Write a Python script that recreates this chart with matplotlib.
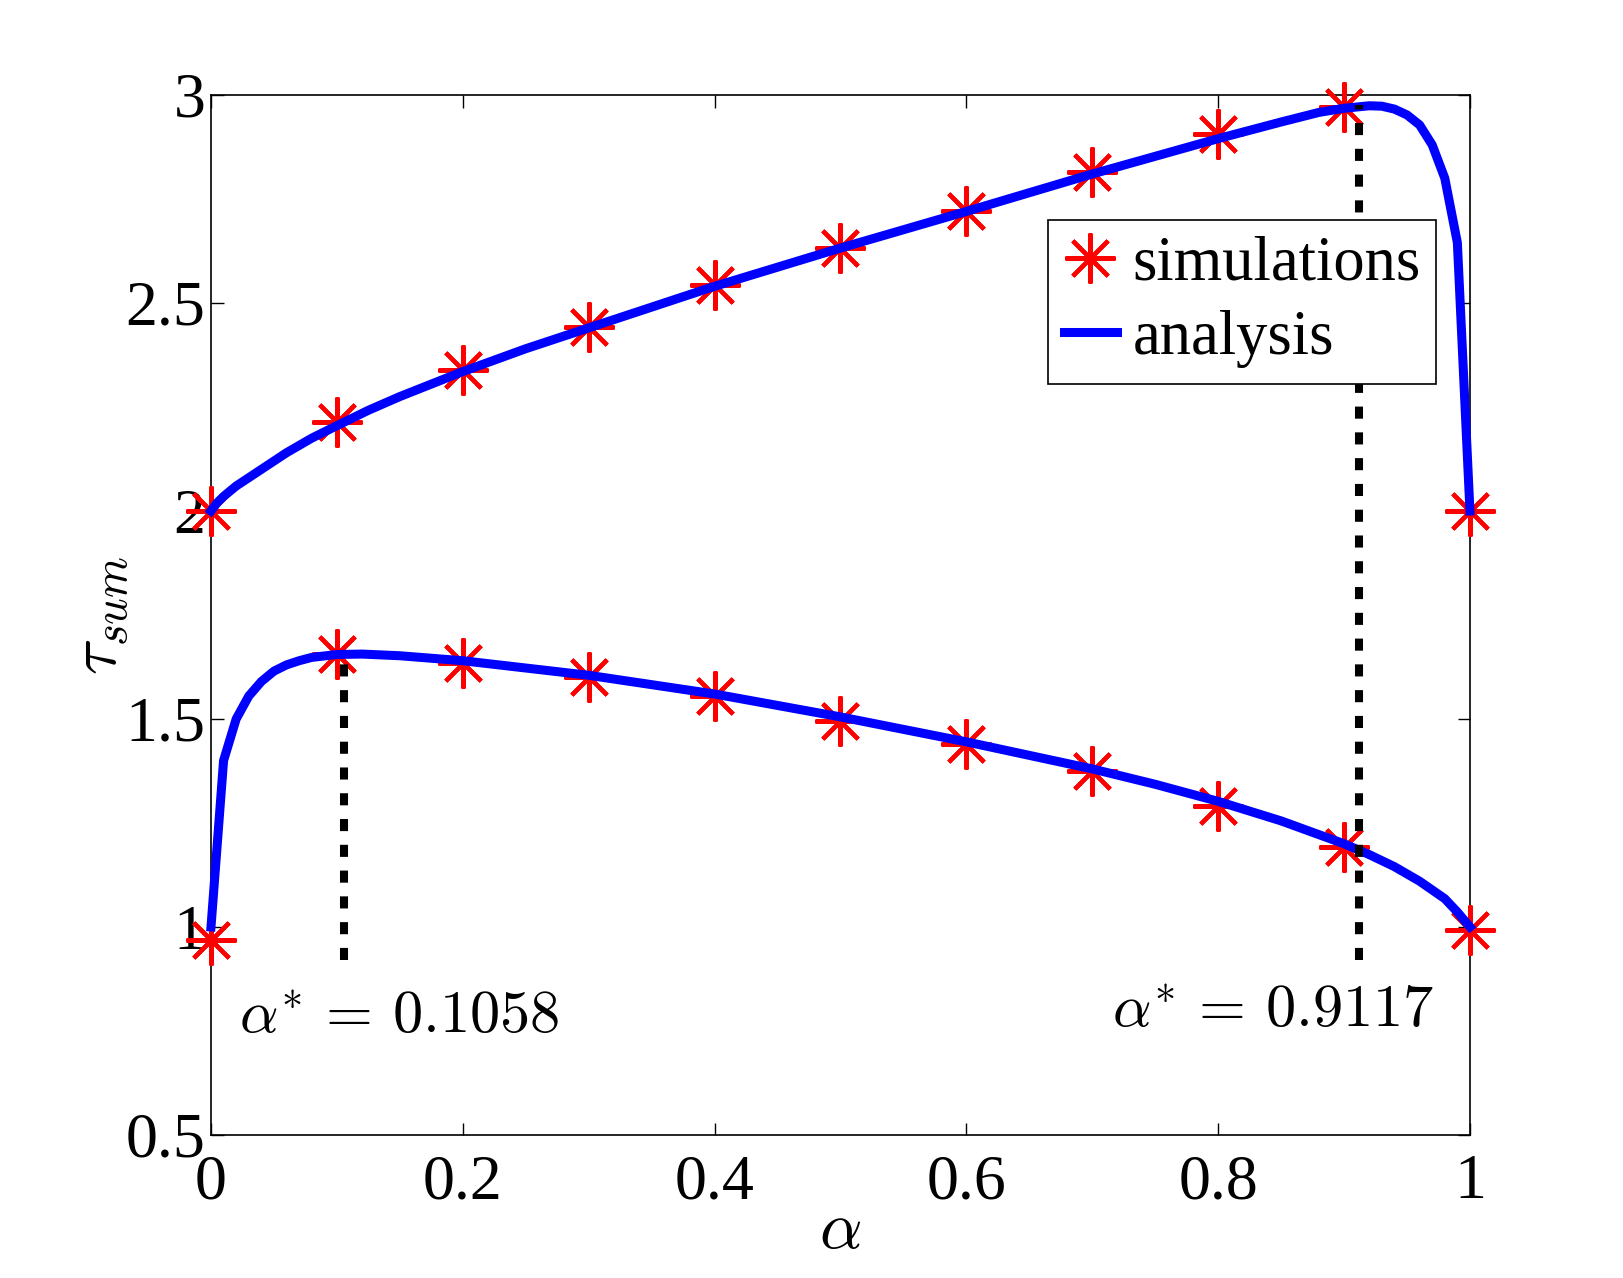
import matplotlib
matplotlib.use("Agg")
import matplotlib.pyplot as plt

# simulation points
sim_alpha = [0.0, 0.1, 0.2, 0.3, 0.4, 0.5, 0.6, 0.7, 0.8, 0.9, 1.0]
sim_upper = [2.0, 2.213, 2.338, 2.442, 2.542, 2.631, 2.721, 2.816, 2.905, 2.970, 2.0]
sim_lower = [0.968, 1.655, 1.635, 1.601, 1.556, 1.494, 1.439, 1.374, 1.292, 1.192, 0.993]

# analysis curves
ana_up_alpha = [0.0, 0.005, 0.01, 0.02, 0.03, 0.04, 0.06, 0.08, 0.1, 0.125, 0.15, 0.2, 0.25, 0.3, 0.4,
                0.5, 0.6, 0.7, 0.8, 0.85, 0.88, 0.9, 0.92, 0.93, 0.94, 0.95, 0.96, 0.97, 0.98, 0.99, 1.0]
ana_up = [2.0, 2.02, 2.035, 2.06, 2.08, 2.10, 2.14, 2.175, 2.205, 2.242, 2.275, 2.335, 2.39, 2.44, 2.54,
          2.632, 2.72, 2.81, 2.895, 2.935, 2.958, 2.968, 2.974, 2.973, 2.966, 2.952, 2.928, 2.88, 2.80, 2.645, 2.0]
ana_lo_alpha = [0.0, 0.01, 0.02, 0.03, 0.04, 0.05, 0.06, 0.07, 0.08, 0.1, 0.12, 0.15, 0.2, 0.3,
                0.4, 0.5, 0.6, 0.7, 0.75, 0.8, 0.85, 0.9, 0.92, 0.94, 0.96, 0.98, 0.99, 1.0]
ana_lo = [1.0, 1.40, 1.50, 1.555, 1.59, 1.615, 1.63, 1.64, 1.648, 1.655, 1.656, 1.652, 1.640, 1.605,
          1.560, 1.505, 1.445, 1.38, 1.343, 1.302, 1.255, 1.20, 1.174, 1.145, 1.11, 1.068, 1.036, 1.0]

# optimal points
opt_alpha = [0.1058, 0.9117]
opt_top = [1.655, 2.975]
opt_bottom = [0.92, 0.92]
opt_labels = [r"$\alpha^{*}\,=\,0.1058$", r"$\alpha^{*}\,=\,0.9117$"]
opt_text_x = [0.022, 0.716]
opt_text_y = [0.745, 0.76]

xticks = [0, 0.2, 0.4, 0.6, 0.8, 1]
xticklabels = ["0", "0.2", "0.4", "0.6", "0.8", "1"]
yticks = [0.5, 1, 1.5, 2, 2.5, 3]
yticklabels = ["0.5", "1", "1.5", "2", "2.5", "3"]

plt.rcParams['mathtext.fontset'] = 'cm'
plt.rcParams['font.family'] = ['Liberation Serif', 'DejaVu Serif']

fig = plt.figure(figsize=(16.23, 12.78), dpi=100)
ax = fig.add_axes([0.130, 0.1119, 0.7757, 0.8138])

ast = (8, 2, 0)
ax.plot(sim_alpha, sim_upper, linestyle='none', marker=ast, markersize=36, markeredgewidth=3,
        color='#ff0000', clip_on=False, label='simulations', zorder=3)
ax.plot(sim_alpha, sim_lower, linestyle='none', marker=ast, markersize=36, markeredgewidth=3,
        color='#ff0000', clip_on=False, zorder=3)
ax.plot(ana_up_alpha, ana_up, color='#0000ff', lw=6.5, label='analysis', zorder=4,
        solid_joinstyle='round', clip_on=False)
ax.plot(ana_lo_alpha, ana_lo, color='#0000ff', lw=6.5, zorder=4,
        solid_joinstyle='round', clip_on=False)

for xa, yt, yb, lab, tx, ty in zip(opt_alpha, opt_top, opt_bottom, opt_labels, opt_text_x, opt_text_y):
    ax.plot([xa, xa], [yb, yt], color='black', lw=5.8, linestyle=(0, (1.5, 1.7)),
            dash_capstyle='butt', zorder=5)
    ax.text(tx, ty, lab, fontsize=43.5, ha='left', va='baseline')

ax.set_xlim(0, 1)
ax.set_ylim(0.5, 3)
ax.set_xticks(xticks)
ax.set_xticklabels(xticklabels)
ax.set_yticks(yticks)
ax.set_yticklabels(yticklabels)
ax.tick_params(direction='in', length=9, width=1, labelsize=46, top=True, right=True,
               pad=14)
ax.tick_params(axis='y', pad=4)
for s in ax.spines.values():
    s.set_linewidth(1.2)

ax.set_xlabel(r"$\alpha$", fontsize=48, labelpad=-8)
ax.set_ylabel(r"$\tau_{sum}$", fontsize=48, labelpad=-4)

leg = ax.legend(loc='upper left', bbox_to_anchor=(0.665, 0.880), fontsize=45,
                frameon=True, fancybox=False, edgecolor='black', framealpha=1,
                handlelength=0.85, handletextpad=0.25, borderpad=0.25, labelspacing=0.27,
                borderaxespad=0)
leg.get_frame().set_linewidth(1.2)

fig.savefig("out.png", dpi=100)
